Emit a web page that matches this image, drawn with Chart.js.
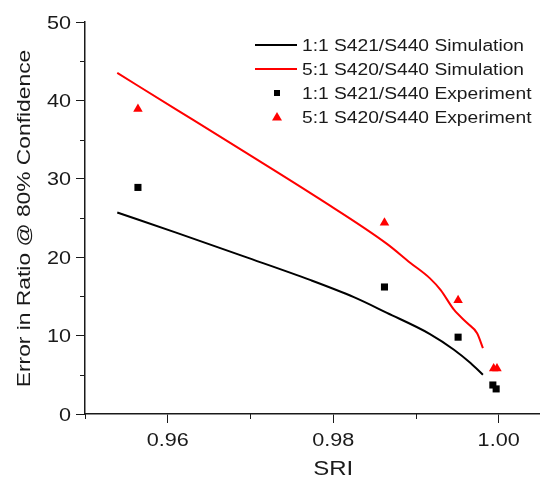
<!DOCTYPE html>
<html lang="en">
<head>
    <meta charset="UTF-8">
    <title>SRI vs Error in Ratio</title>
    <style>
        html, body {
            margin: 0;
            padding: 0;
            background: #fff;
        }
        #wrap {
            width: 540px;
            height: 484px;
        }
    </style>
    <script src="https://cdn.jsdelivr.net/npm/chart.js"></script>
</head>
<body>
    <div id="wrap"><canvas id="sriChart" width="540" height="484"></canvas></div>
    <script>
        // simulation curves
        const sim11X = [0.9539, 0.9611, 0.9692, 0.9772, 0.9825, 0.9865, 0.9917, 0.9946, 0.9966, 0.9981];
        const sim11Y = [25.7, 23.1, 20.1, 17.1, 14.9, 12.9, 10.2, 8.2, 6.5, 5.0];
        const sim51X = [0.9539, 0.9611, 0.9692, 0.9784, 0.9865, 0.9893, 0.9917, 0.9930, 0.9946, 0.9962, 0.9974, 0.9981];
        const sim51Y = [43.5, 38.8, 33.5, 27.4, 21.7, 19.3, 17.3, 15.8, 13.3, 11.6, 10.3, 8.4];

        // measured points
        const exp11X = [0.9564, 0.9862, 0.9951, 0.9993, 0.9997];
        const exp11Y = [28.9, 16.2, 9.8, 3.7, 3.2];
        const exp51X = [0.9564, 0.9862, 0.9951, 0.9994, 0.9998];
        const exp51Y = [38.9, 24.4, 14.5, 5.8, 5.8];

        const xTicks = [0.96, 0.98, 1.00];
        const xMinorTicks = [0.95, 0.97, 0.99];
        const yTicks = [0, 10, 20, 30, 40, 50];
        const yMinorTicks = [5, 15, 25, 35, 45];

        const seriesLabels = [
            '1:1 S421/S440 Simulation',
            '5:1 S420/S440 Simulation',
            '1:1 S421/S440 Experiment',
            '5:1 S420/S440 Experiment'
        ];
        const xTitle = 'SRI';
        const yTitle = 'Error in Ratio @ 80% Confidence';

        const FONT = "'Liberation Sans', Arial, sans-serif";
        const INK = '#1a1a1a';
        const RED = '#ff0000';
        const WIDE = 1.2;   // text in this figure is set wide

        function pairs(xs, ys) {
            return xs.map((x, i) => ({ x: x, y: ys[i] }));
        }

        function wideText(c, text, x, y, align) {
            c.save();
            c.translate(x, y);
            c.scale(WIDE, 1);
            c.textAlign = align;
            c.fillText(text, 0, 0);
            c.restore();
        }

        // short minor ticks on both axes
        const minorTicks = {
            id: 'minorTicks',
            afterDraw(chart) {
                const c = chart.ctx, xs = chart.scales.x, ys = chart.scales.y;
                c.save();
                c.strokeStyle = INK;
                c.lineWidth = 1;
                c.beginPath();
                xMinorTicks.forEach(v => {
                    const px = Math.round(xs.getPixelForValue(v)) + 0.5;
                    c.moveTo(px, ys.bottom);
                    c.lineTo(px, ys.bottom + 5);
                });
                yMinorTicks.forEach(v => {
                    const py = Math.round(ys.getPixelForValue(v)) + 0.5;
                    c.moveTo(xs.left - 5, py);
                    c.lineTo(xs.left, py);
                });
                c.stroke();
                c.restore();
            }
        };

        // tick labels and axis titles
        const axisText = {
            id: 'axisText',
            afterDraw(chart) {
                const c = chart.ctx, xs = chart.scales.x, ys = chart.scales.y;
                c.save();
                c.fillStyle = INK;
                c.textBaseline = 'alphabetic';
                c.font = '18px ' + FONT;
                yTicks.forEach(v => {
                    wideText(c, String(v), 71, ys.getPixelForValue(v) + 6.5, 'right');
                });
                xTicks.forEach(v => {
                    wideText(c, v.toFixed(2), xs.getPixelForValue(v), 446, 'center');
                });
                c.font = '20px ' + FONT;
                wideText(c, xTitle, xs.getPixelForValue(0.98), 475, 'center');
                c.font = '19px ' + FONT;
                c.translate(29.5, 218.5);
                c.rotate(-Math.PI / 2);
                wideText(c, yTitle, 0, 0, 'center');
                c.restore();
            }
        };

        // legend box in the upper right
        const cornerLegend = {
            id: 'cornerLegend',
            afterDraw(chart) {
                const c = chart.ctx;
                const rows = [45, 69, 93, 117];
                c.save();
                c.font = '16px ' + FONT;
                c.textBaseline = 'alphabetic';
                chart.data.datasets.forEach((ds, i) => {
                    const y = rows[i];
                    if (ds.showLine) {
                        c.strokeStyle = ds.borderColor;
                        c.lineWidth = 2;
                        c.beginPath();
                        c.moveTo(255, y);
                        c.lineTo(297, y);
                        c.stroke();
                    } else {
                        c.fillStyle = ds.backgroundColor;
                        c.beginPath();
                        if (ds.pointStyle === 'triangle') {
                            c.moveTo(277, y - 5);
                            c.lineTo(282, y + 3.5);
                            c.lineTo(272, y + 3.5);
                        } else {
                            c.rect(274, y - 3, 6, 6);
                        }
                        c.closePath();
                        c.fill();
                    }
                    c.fillStyle = INK;
                    wideText(c, ds.label, 302, y + 5.7, 'left');
                });
                c.restore();
            }
        };

        new Chart(document.getElementById('sriChart'), {
            type: 'scatter',
            data: {
                datasets: [
                    {
                        label: seriesLabels[0],
                        data: pairs(sim11X, sim11Y),
                        showLine: true,
                        borderColor: '#000',
                        borderWidth: 2,
                        pointRadius: 0,
                        cubicInterpolationMode: 'monotone'
                    },
                    {
                        label: seriesLabels[1],
                        data: pairs(sim51X, sim51Y),
                        showLine: true,
                        borderColor: RED,
                        borderWidth: 2,
                        pointRadius: 0,
                        cubicInterpolationMode: 'monotone'
                    },
                    {
                        label: seriesLabels[2],
                        data: pairs(exp11X, exp11Y),
                        showLine: false,
                        pointStyle: 'rect',
                        pointRadius: 5,
                        backgroundColor: '#000',
                        borderColor: '#000',
                        borderWidth: 0
                    },
                    {
                        label: seriesLabels[3],
                        data: pairs(exp51X, exp51Y),
                        showLine: false,
                        pointStyle: 'triangle',
                        pointRadius: 5.5,
                        backgroundColor: RED,
                        borderColor: RED,
                        borderWidth: 0
                    }
                ]
            },
            options: {
                responsive: false,
                animation: false,
                layout: {
                    autoPadding: false,
                    padding: { top: 22, right: 0, left: 0, bottom: 0 }
                },
                plugins: {
                    legend: { display: false },
                    tooltip: { enabled: false }
                },
                scales: {
                    x: {
                        type: 'linear',
                        min: 0.95,
                        max: 1.005,
                        afterBuildTicks(scale) {
                            scale.ticks = xTicks.map(v => ({ value: v }));
                        },
                        afterFit(scale) { scale.height = 70; },
                        ticks: { display: false },
                        grid: {
                            drawOnChartArea: false,
                            drawTicks: true,
                            tickLength: 9,
                            color: INK
                        },
                        border: { display: true, color: INK, width: 1.5 }
                    },
                    y: {
                        min: 0,
                        max: 50,
                        afterBuildTicks(scale) {
                            scale.ticks = yTicks.map(v => ({ value: v }));
                        },
                        afterFit(scale) { scale.width = 85; },
                        ticks: { display: false },
                        grid: {
                            drawOnChartArea: false,
                            drawTicks: true,
                            tickLength: 9,
                            color: INK
                        },
                        border: { display: true, color: INK, width: 1.5 }
                    }
                }
            },
            plugins: [minorTicks, axisText, cornerLegend]
        });
    </script>
</body>
</html>
